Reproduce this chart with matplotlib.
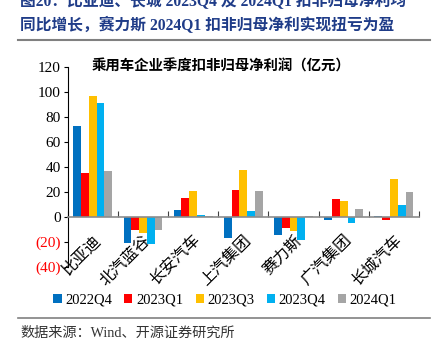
import numpy as np
import matplotlib
matplotlib.use("Agg")
import matplotlib.pyplot as plt
from matplotlib.lines import Line2D

plt.rcParams['font.family'] = ['Liberation Serif', 'Noto Sans CJK SC']

companies = ['比亚迪', '北汽蓝谷', '长安汽车', '上汽集团', '赛力斯', '广汽集团', '长城汽车']
quarters = ['2022Q4', '2023Q1', '2023Q3', '2023Q4', '2024Q1']
profit_2022q4 = [72.5, -21.0, 6.0, -16.5, -14.0, -2.5, 1.0]
profit_2023q1 = [35.5, -10.5, 15.0, 21.5, -9.0, 14.5, -2.0]
profit_2023q3 = [96.5, -12.5, 21.0, 38.0, -11.5, 13.0, 30.5]
profit_2023q4 = [91.0, -21.5, 1.5, 5.0, -18.0, -4.5, 10.0]
profit_2024q1 = [37.0, -10.0, 1.0, 21.0, 1.0, 6.5, 20.0]
series = [profit_2022q4, profit_2023q1, profit_2023q3, profit_2023q4, profit_2024q1]
colors = ['#0070C0', '#FF0000', '#FFC000', '#00B0F0', '#A5A5A5']

title = ('图20：比亚迪、长城 2023Q4 及 2024Q1 扣非归母净利均\n'
         '同比增长，赛力斯 2024Q1 扣非归母净利实现扭亏为盈')
chart_title = '乘用车企业季度扣非归母净利润（亿元）'
source = '数据来源：Wind、开源证券研究所'

W, H = 443, 356
fig = plt.figure(figsize=(W / 100, H / 100), dpi=100)
ax = fig.add_axes([67.7 / W, 1 - 267 / H, (419 - 67.7) / W, 200 / H])

x = np.arange(len(companies))
bw = 0.155
handles = []
for i, (vals, c) in enumerate(zip(series, colors)):
    b = ax.bar(x + (i - 2) * bw, vals, width=bw, color=c, zorder=2)
    handles.append(b)

ax.set_xlim(-0.5, len(companies) - 0.5)
ax.set_ylim(-40, 120)
ax.set_yticks(np.arange(-40, 121, 20))
ax.set_yticklabels([f'({-v})' if v < 0 else f'{v}' for v in range(-40, 121, 20)],
                   fontsize=11)
for lab, v in zip(ax.get_yticklabels(), range(-40, 121, 20)):
    lab.set_color('#FF0000' if v < 0 else '#000000')
ax.tick_params(axis='y', direction='out', length=3, width=0.8, pad=2)

ax.spines['top'].set_visible(False)
ax.spines['right'].set_visible(False)
ax.spines['bottom'].set_position(('data', 0))
ax.spines['bottom'].set_color('#8C8C8C')
ax.spines['bottom'].set_linewidth(1.2)
ax.spines['left'].set_linewidth(0.8)

ax.set_xticks(x)
ax.set_xticklabels(companies, rotation=45, ha='right', va='top',
                   rotation_mode='anchor', fontsize=11.5)
ax.tick_params(axis='x', which='major', length=0, pad=11)
ax.set_xticks(np.arange(-0.5, len(companies), 1.0), minor=True)
ax.tick_params(axis='x', which='minor', direction='in', length=4, width=0.8,
               color='#404040')
for lab in ax.get_xticklabels():
    lab.set_zorder(5)

fig.text(221 / W, 1 - 66 / H, chart_title, ha='center', va='center',
         fontsize=10.4, fontweight='bold')

fig.text(20 / W, 1 - 14 / H, title, ha='left', va='center', fontsize=11.3,
         fontweight='bold', color='#1F3C88', linespacing=1.5)
fig.add_artist(Line2D([18 / W, 430 / W], [1 - 40 / H, 1 - 40 / H],
                      color='#808080', lw=1.5))

fig.legend(handles, quarters, loc='center', bbox_to_anchor=(225 / W, 1 - 300 / H),
           ncol=5, frameon=False, fontsize=10.5, handlelength=0.55,
           handleheight=0.55, handletextpad=0.25, columnspacing=0.85,
           borderaxespad=0)
fig.add_artist(Line2D([18 / W, 430 / W], [1 - 318 / H, 1 - 318 / H],
                      color='#808080', lw=1.2))
fig.text(20 / W, 1 - 333 / H, source, ha='left', va='center', fontsize=10.2,
         color='#333333')

fig.savefig('out.png', dpi=100)
